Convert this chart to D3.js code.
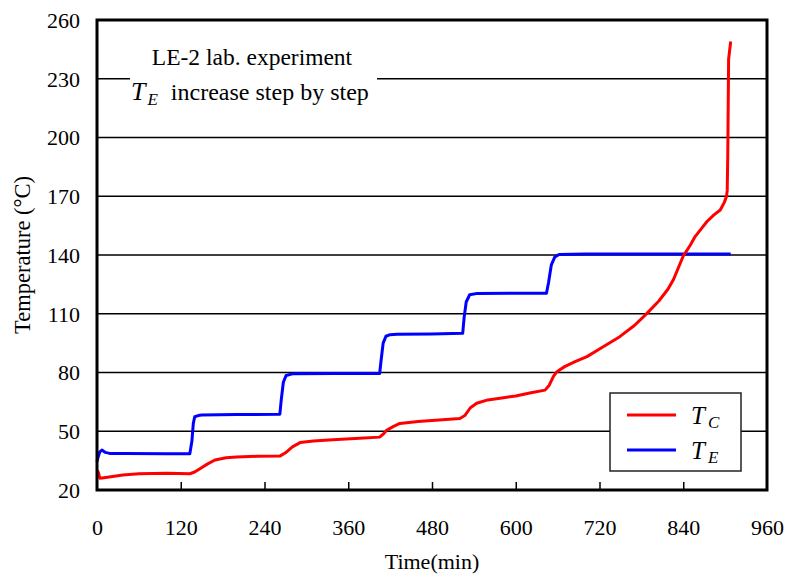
<!DOCTYPE html>
<html>
<head>
<meta charset="utf-8">
<script src="https://cdn.jsdelivr.net/npm/d3@7"></script>
<style>
  body { margin: 0; background: #fff; }
  svg text { font-family: "Liberation Serif", "Times New Roman", serif; fill: #000; }
</style>
</head>
<body>
<svg id="chart" width="788" height="581"></svg>
<script>
// Time axis ticks (min) and temperature ticks (°C)
const xTicks = [0, 120, 240, 360, 480, 600, 720, 840, 960];
const yTicks = [20, 50, 80, 110, 140, 170, 200, 230, 260];

// T_C : condenser temperature
const tcTime = [0, 2, 4, 10, 37, 60, 100, 133, 140, 148, 158, 169, 185, 200, 230, 262, 270, 280, 291, 310, 338, 370, 405, 410, 415, 425, 434, 460, 490, 520, 527, 535, 544, 560, 580, 600, 620, 642, 648, 654, 659, 670, 685, 702, 720, 749, 770, 788, 805, 818, 826, 833, 840, 850, 857, 866, 874, 884, 893, 899, 902, 903, 903.8, 905, 906, 908];
const tcValue = [30, 29, 26, 26.3, 27.7, 28.3, 28.5, 28.3, 29.2, 31, 33.2, 35.3, 36.5, 36.8, 37.2, 37.3, 39, 42, 44.2, 45, 45.6, 46.3, 47, 48.5, 50.5, 52.5, 54, 55, 55.7, 56.5, 58, 62, 64.3, 66, 67, 68, 69.5, 71, 73.5, 78, 80.4, 83, 85.5, 88.1, 92, 98.3, 104, 110.2, 116.5, 122.5, 127.5, 133.5, 139.5, 145, 149.4, 153.5, 157.1, 160.5, 163, 167, 170, 173, 191, 240, 243, 249];

// T_E : evaporator temperature, raised step by step
const teTime = [0, 1, 4, 7, 12, 18, 40, 100, 133, 136, 138, 140, 145, 150, 200, 262, 264, 267, 271, 280, 340, 405, 407, 410, 414, 420, 430, 480, 524, 526, 529, 534, 545, 600, 644, 647, 651, 656, 662, 700, 800, 908];
const teValue = [34.5, 36, 39.5, 40.4, 39.2, 38.7, 38.6, 38.5, 38.5, 45, 54, 57.4, 58, 58.3, 58.5, 58.7, 66, 75, 78.5, 79.3, 79.5, 79.5, 86, 95, 98.5, 99.3, 99.5, 99.6, 100, 108, 116, 119.7, 120.4, 120.5, 120.5, 126, 135, 139, 140.3, 140.5, 140.5, 140.5];

const svg = d3.select("#chart");
const plotLeft = 97, plotRight = 767, plotTop = 20, plotBottom = 490;

const x = d3.scaleLinear().domain([0, 960]).range([plotLeft, plotRight]);
const y = d3.scaleLinear().domain([20, 260]).range([plotBottom, plotTop]);

// horizontal gridlines
svg.append("g").selectAll("line")
  .data(yTicks.filter(v => v > 20 && v < 260))
  .join("line")
  .attr("x1", plotLeft).attr("x2", plotRight)
  .attr("y1", d => y(d)).attr("y2", d => y(d))
  .attr("stroke", "#000").attr("stroke-width", 1.3);

// bottom axis: inward ticks, labels below
const xAxis = d3.axisBottom(x).tickValues(xTicks).tickSize(-8).tickPadding(0).tickFormat(d3.format("d"));
const gx = svg.append("g").attr("transform", `translate(0,${plotBottom})`).call(xAxis);
gx.select(".domain").remove();
gx.selectAll(".tick line").attr("stroke", "#000").attr("stroke-width", 1.5)
  .filter(d => d === 0 || d === 960).remove();
gx.selectAll(".tick text").attr("font-size", 22).attr("y", 45).attr("dy", 0)
  .style("font-family", "Liberation Serif, serif");

// left axis: labels only
const yAxis = d3.axisLeft(y).tickValues(yTicks).tickSize(0).tickPadding(17).tickFormat(d3.format("d"));
const gy = svg.append("g").attr("transform", `translate(${plotLeft},0)`).call(yAxis);
gy.select(".domain").remove();
gy.selectAll(".tick text").attr("font-size", 22).attr("dy", "0.34em")
  .style("font-family", "Liberation Serif, serif");

// series
const line = d3.line().x(d => x(d[0])).y(d => y(d[1]));
svg.append("path")
  .datum(d3.zip(teTime, teValue))
  .attr("d", line).attr("fill", "none")
  .attr("stroke", "#0000ff").attr("stroke-width", 3).attr("stroke-linejoin", "round");
svg.append("path")
  .datum(d3.zip(tcTime, tcValue))
  .attr("d", line).attr("fill", "none")
  .attr("stroke", "#ff0000").attr("stroke-width", 3).attr("stroke-linejoin", "round");

// plot frame
svg.append("rect")
  .attr("x", plotLeft).attr("y", plotTop).attr("width", plotRight - plotLeft).attr("height", plotBottom - plotTop)
  .attr("fill", "none").attr("stroke", "#000").attr("stroke-width", 3);

// annotation
svg.append("rect").attr("x", 130).attr("y", 40).attr("width", 247).attr("height", 70).attr("fill", "#fff");
svg.append("text").attr("x", 252).attr("y", 65).attr("text-anchor", "middle").attr("font-size", 23.5)
  .text("LE-2 lab. experiment");
const t2 = svg.append("text").attr("x", 131).attr("y", 100).attr("font-size", 24);
t2.append("tspan").attr("font-style", "italic").attr("font-size", 26).text("T");
t2.append("tspan").attr("font-style", "italic").attr("font-size", 17).attr("dx", 2).attr("dy", 5).text("E");
t2.append("tspan").attr("dy", -5).attr("dx", 13).text("increase step by step");

// axis titles
svg.append("text").attr("x", x(480)).attr("y", 569).attr("text-anchor", "middle").attr("font-size", 22)
  .text("Time(min)");
svg.append("text").attr("transform", `translate(30,${(plotTop + plotBottom) / 2}) rotate(-90)`)
  .attr("text-anchor", "middle").attr("font-size", 22.5).text("Temperature (°C)");

// legend
const lg = svg.append("g");
lg.append("rect").attr("x", 610).attr("y", 393).attr("width", 131).attr("height", 78)
  .attr("fill", "#fff").attr("stroke", "#222").attr("stroke-width", 1.5);
const items = [{ c: "#ff0000", s: "C", yy: 415 }, { c: "#0000ff", s: "E", yy: 450 }];
items.forEach(it => {
  lg.append("line").attr("x1", 627).attr("x2", 676).attr("y1", it.yy).attr("y2", it.yy)
    .attr("stroke", it.c).attr("stroke-width", 3);
  const tx = lg.append("text").attr("x", 691).attr("y", it.yy + 8.5).attr("font-style", "italic");
  tx.append("tspan").attr("font-size", 25).text("T");
  tx.append("tspan").attr("font-size", 17).attr("dx", 3).attr("dy", 4).text(it.s);
});
</script>
</body>
</html>
